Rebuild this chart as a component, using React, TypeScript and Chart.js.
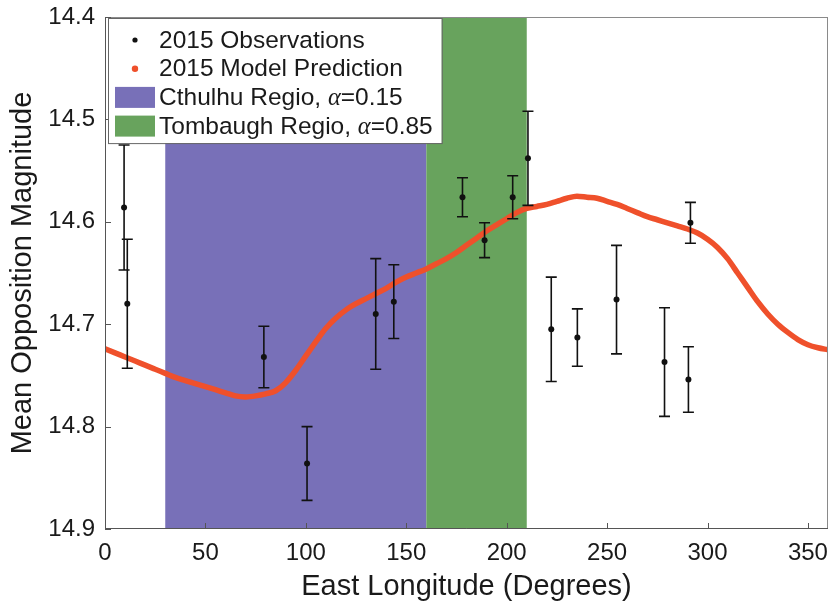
import React, { useEffect, useRef } from "react";
import { Chart, registerables } from "chart.js";

Chart.register(...registerables);

// ---------- data ----------
const modelLon = [
  0, 5, 10, 15, 20, 25, 30, 35, 40, 45, 50, 55, 60, 65, 70, 75, 80, 85, 90, 95,
  100, 105, 110, 115, 120, 125, 130, 135, 140, 145, 150, 155, 160, 165, 170, 175,
  180, 185, 190, 195, 200, 205, 210, 215, 220, 225, 230, 235, 240, 245, 250, 255,
  260, 265, 270, 275, 280, 285, 290, 295, 300, 305, 310, 315, 320, 325, 330, 335,
  340, 345, 350, 355, 360,
];
const modelMag = [
  14.724, 14.728, 14.732, 14.736, 14.740, 14.744, 14.748, 14.752, 14.755, 14.758,
  14.761, 14.764, 14.767, 14.770, 14.771, 14.770, 14.768, 14.765, 14.757, 14.745,
  14.731, 14.717, 14.704, 14.694, 14.686, 14.680, 14.675, 14.670, 14.665, 14.659,
  14.654, 14.650, 14.646, 14.641, 14.636, 14.630, 14.623, 14.616, 14.609, 14.603,
  14.597, 14.591, 14.587, 14.585, 14.583, 14.580, 14.577, 14.575, 14.576, 14.577,
  14.580, 14.583, 14.587, 14.591, 14.595, 14.598, 14.601, 14.604, 14.607, 14.611,
  14.617, 14.625, 14.636, 14.650, 14.664, 14.678, 14.690, 14.700, 14.708, 14.715,
  14.720, 14.723, 14.725,
];

const obsLon = [9.5, 11.1, 79.1, 100.6, 134.8, 143.8, 178, 189, 203, 210.6, 222.2, 235.2, 254.7, 278.6, 290.5, 291.5];
const obsMag = [14.586, 14.680, 14.732, 14.836, 14.690, 14.678, 14.576, 14.618, 14.576, 14.538, 14.705, 14.713, 14.676, 14.737, 14.754, 14.601];
const obsErr = [0.061, 0.063, 0.030, 0.036, 0.054, 0.036, 0.019, 0.017, 0.021, 0.046, 0.051, 0.028, 0.053, 0.053, 0.032, 0.020];

const regionNames = ["Cthulhu Regio, ", "Tombaugh Regio, "];
const regionAlbedo = ["=0.15", "=0.85"];
const regionStart = [30, 160];
const regionEnd = [160, 210];
const regionColors = ["#7870b8", "#68a35d"];

const seriesNames = ["2015 Observations", "2015 Model Prediction"];

const xTicks = [0, 50, 100, 150, 200, 250, 300, 350];
const yTicks = [14.4, 14.5, 14.6, 14.7, 14.8, 14.9];

const xTitle = "East Longitude (Degrees)";
const yTitle = "Mean Opposition Magnitude";

// ---------- styles ----------
const SANS = "'Liberation Sans', Arial, Helvetica, sans-serif";
const SERIF = "'Liberation Serif', 'DejaVu Serif', serif";
const RED = "#ef502b";
const INK = "#1a1a1a";

const regionsPlugin = {
  id: "regions",
  beforeDatasetsDraw(chart: any) {
    const { ctx, chartArea: a, scales } = chart;
    const x = scales.x;
    ctx.save();
    regionStart.forEach((s, i) => {
      const x0 = x.getPixelForValue(s);
      const x1 = x.getPixelForValue(regionEnd[i]);
      ctx.fillStyle = regionColors[i];
      ctx.fillRect(x0, a.top, x1 - x0, a.bottom - a.top);
    });
    ctx.restore();
  },
};

const framePlugin = {
  id: "frame",
  afterDatasetsDraw(chart: any) {
    const { ctx, chartArea: a, scales } = chart;
    ctx.save();
    ctx.lineWidth = 1;
    ctx.strokeStyle = "#8a8a8a";
    ctx.beginPath();
    ctx.moveTo(a.left, a.top + 0.5);
    ctx.lineTo(a.right, a.top + 0.5);
    ctx.moveTo(a.right - 0.5, a.top);
    ctx.lineTo(a.right - 0.5, a.bottom);
    ctx.stroke();
    ctx.strokeStyle = "#555";
    ctx.beginPath();
    ctx.moveTo(a.left + 0.5, a.top);
    ctx.lineTo(a.left + 0.5, a.bottom);
    ctx.moveTo(a.left, a.bottom - 0.5);
    ctx.lineTo(a.right, a.bottom - 0.5);
    xTicks.forEach((v) => {
      const px = Math.round(scales.x.getPixelForValue(v)) + 0.5;
      ctx.moveTo(px, a.bottom);
      ctx.lineTo(px, a.bottom - 6);
    });
    yTicks.forEach((v) => {
      const py = Math.round(scales.y.getPixelForValue(v)) + 0.5;
      ctx.moveTo(a.left, py);
      ctx.lineTo(a.left + 6, py);
    });
    ctx.stroke();
    ctx.restore();
  },
};

const errorBarPlugin = {
  id: "errorbars",
  afterDatasetsDraw(chart: any) {
    const { ctx, scales } = chart;
    const x = scales.x;
    const y = scales.y;
    ctx.save();
    ctx.strokeStyle = "#111";
    ctx.lineWidth = 1.6;
    ctx.beginPath();
    obsLon.forEach((lon, i) => {
      const px = x.getPixelForValue(lon);
      const yTop = y.getPixelForValue(obsMag[i] - obsErr[i]);
      const yBot = y.getPixelForValue(obsMag[i] + obsErr[i]);
      ctx.moveTo(px, yTop);
      ctx.lineTo(px, yBot);
      ctx.moveTo(px - 5.5, yTop);
      ctx.lineTo(px + 5.5, yTop);
      ctx.moveTo(px - 5.5, yBot);
      ctx.lineTo(px + 5.5, yBot);
    });
    ctx.stroke();
    ctx.restore();
  },
};

const legendPlugin = {
  id: "customLegend",
  afterDraw(chart: any) {
    const { ctx, chartArea: a } = chart;
    ctx.save();
    const fs = 24.5;
    const sansFont = `${fs}px ${SANS}`;
    const serifFont = `italic ${fs}px ${SERIF}`;
    const L = a.left + 3;
    const T = a.top + 1;
    const textX = L + 51;
    const rowH = 28.7;
    const rowY = (i: number) => T + 22 + i * rowH;

    ctx.font = sansFont;
    let maxW = 0;
    seriesNames.forEach((n) => (maxW = Math.max(maxW, ctx.measureText(n).width)));
    const regionW = regionNames.map((n, i) => {
      ctx.font = sansFont;
      const w1 = ctx.measureText(n).width;
      const w3 = ctx.measureText(regionAlbedo[i]).width;
      ctx.font = serifFont;
      const w2 = ctx.measureText("\u03b1").width;
      return [w1, w2, w3];
    });
    regionW.forEach((w) => (maxW = Math.max(maxW, w[0] + w[1] + w[2])));
    const W = 51 + maxW + 9;
    const H = rowY(3) - T + 17;

    ctx.fillStyle = "#fff";
    ctx.fillRect(L, T, W, H);
    ctx.strokeStyle = "#666";
    ctx.lineWidth = 1;
    ctx.strokeRect(L + 0.5, T + 0.5, W, H);

    ctx.textBaseline = "middle";
    ctx.textAlign = "left";
    const mx = L + 27;
    ctx.fillStyle = "#111";
    ctx.beginPath();
    ctx.arc(mx, rowY(0), 2.6, 0, Math.PI * 2);
    ctx.fill();
    ctx.fillStyle = RED;
    ctx.beginPath();
    ctx.arc(mx, rowY(1), 3.2, 0, Math.PI * 2);
    ctx.fill();

    ctx.fillStyle = INK;
    ctx.font = sansFont;
    seriesNames.forEach((n, i) => ctx.fillText(n, textX, rowY(i) + 1));

    regionNames.forEach((n, i) => {
      const yy = rowY(i + 2);
      ctx.fillStyle = regionColors[i];
      ctx.fillRect(L + 7, yy - 10.5, 40, 21);
      ctx.fillStyle = INK;
      ctx.font = sansFont;
      ctx.fillText(n, textX, yy + 1);
      const [w1, w2] = regionW[i];
      ctx.font = serifFont;
      ctx.fillText("\u03b1", textX + w1, yy + 1);
      ctx.font = sansFont;
      ctx.fillText(regionAlbedo[i], textX + w1 + w2, yy + 1);
    });
    ctx.restore();
  },
};

export default function App() {
  const ref = useRef<HTMLCanvasElement | null>(null);

  useEffect(() => {
    const canvas = ref.current;
    if (!canvas) return;
    const chart = new Chart(canvas, {
      type: "line",
      data: {
        datasets: [
          {
            label: seriesNames[0],
            data: obsLon.map((x, i) => ({ x, y: obsMag[i] })),
            showLine: false,
            pointRadius: 3,
            pointBorderWidth: 0,
            pointBackgroundColor: "#111",
            borderColor: "#111",
          },
          {
            label: seriesNames[1],
            data: modelLon.map((x, i) => ({ x, y: modelMag[i] })),
            borderColor: RED,
            borderWidth: 5.5,
            pointRadius: 0,
            cubicInterpolationMode: "monotone",
            fill: false,
          },
        ],
      } as any,
      options: {
        responsive: false,
        animation: false,
        devicePixelRatio: 1,
        layout: { padding: { top: 17, right: 3, left: 0, bottom: 0 } },
        plugins: {
          legend: { display: false },
          tooltip: { enabled: false },
        },
        scales: {
          x: {
            type: "linear",
            min: 0,
            max: 360,
            afterBuildTicks: (s: any) => {
              s.ticks = xTicks.map((v) => ({ value: v }));
            },
            afterFit: (s: any) => {
              s.height = 77;
              s.paddingLeft = 0;
              s.paddingRight = 0;
            },
            grid: { display: false, drawTicks: false },
            border: { display: false },
            ticks: {
              font: { family: SANS, size: 24 },
              color: INK,
              padding: 10,
              maxRotation: 0,
              autoSkip: false,
            },
            title: {
              display: true,
              text: xTitle,
              font: { family: SANS, size: 29 },
              color: INK,
              padding: { top: 0, bottom: 2 },
            },
          },
          y: {
            type: "linear",
            reverse: true,
            min: 14.4,
            max: 14.9,
            afterBuildTicks: (s: any) => {
              s.ticks = yTicks.map((v) => ({ value: v }));
            },
            afterFit: (s: any) => {
              s.width = 105;
              s.paddingTop = 0;
              s.paddingBottom = 0;
            },
            grid: { display: false, drawTicks: false },
            border: { display: false },
            ticks: {
              font: { family: SANS, size: 24 },
              color: INK,
              padding: 10,
              callback: (v: any) => Number(v).toFixed(1),
            },
            title: {
              display: true,
              text: yTitle,
              font: { family: SANS, size: 29 },
              color: INK,
              padding: { top: 6, bottom: 0 },
            },
          },
        },
      } as any,
      plugins: [regionsPlugin, framePlugin, errorBarPlugin, legendPlugin],
    });
    return () => chart.destroy();
  }, []);

  return (
    <div style={{ position: "fixed", left: 0, top: 0, width: 832, height: 606, background: "#fff" }}>
      <canvas ref={ref} width={832} height={606} style={{ display: "block", width: 832, height: 606 }} />
    </div>
  );
}
